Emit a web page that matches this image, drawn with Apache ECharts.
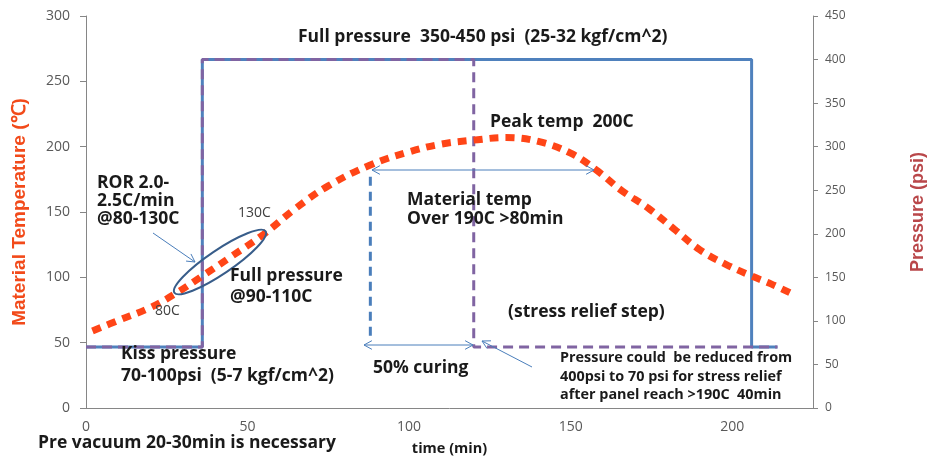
<!DOCTYPE html>
<html>
<head>
<meta charset="utf-8">
<script src="https://cdn.jsdelivr.net/npm/echarts@6/dist/echarts.min.js"></script>
<style>
  html, body { margin: 0; padding: 0; background: #fff; }
  #chart { width: 933px; height: 457px; }
</style>
</head>
<body>
<div id="chart"></div>
<script>
// 数据：温度曲线 (min, ℃)
const tempTime = [2, 10, 20, 28, 36, 45, 55, 65, 75, 88, 100, 110, 120, 130, 140, 150, 158, 166, 174, 182, 190, 198, 206, 212, 218];
const tempC = [59, 67, 77, 88, 101, 116, 133, 153, 170, 186, 196, 202, 205, 207, 204, 195, 182, 166, 153, 137, 121, 110, 101, 95, 88];
// 压力 (min, psi)
const pressTime = [0, 36, 36, 206, 206, 214];
const pressPsi = [70, 70, 400, 400, 70, 70];
// 阶段压力（虚线）
const stepTime = [0, 36, 36, 120, 120, 214];
const stepPsi = [70, 70, 400, 400, 70, 70];
// 50% curing 竖线
const curingTime = [88, 88];
const curingTemp = [177, 54];
// 刻度
const timeTicks = [0, 50, 100, 150, 200];

function pairs(xs, ys) {
  return xs.map((x, i) => [x, ys[i]]);
}

const chart = echarts.init(document.getElementById("chart"));
const FONT = "'Open Sans', Lato, sans-serif";
const ink = "#1a1a1a";
const arrowColor = "#4a7ebb";

// 文字标注
function txt(text, x, y, size, bold, color) {
  return {
    type: "text",
    x: x,
    y: y,
    z: 10,
    style: {
      text: text,
      fill: color || ink,
      font: (bold === false ? "normal " : "bold ") + size + "px " + FONT,
      textVerticalAlign: "middle",
    },
  };
}

// 箭头（开口箭头）
function arrow(x1, y1, x2, y2, both) {
  const out = [{ type: "line", z: 10, shape: { x1, y1, x2, y2 }, style: { stroke: arrowColor, lineWidth: 1 } }];
  const head = (px, py, fx, fy) => {
    const a = Math.atan2(py - fy, px - fx);
    const L = 9, w = 0.5;
    return {
      type: "polyline",
      z: 10,
      shape: {
        points: [
          [px - L * Math.cos(a - w), py - L * Math.sin(a - w)],
          [px, py],
          [px - L * Math.cos(a + w), py - L * Math.sin(a + w)],
        ],
      },
      style: { stroke: arrowColor, lineWidth: 1, fill: null },
    };
  };
  out.push(head(x2, y2, x1, y1));
  if (both) out.push(head(x1, y1, x2, y2));
  return out;
}

const BIG = 17.5;
const NOTE = 14.4;

const graphics = [
  txt("Full pressure  350-450 psi  (25-32 kgf/cm^2)", 298, 37, BIG),
  txt("Peak temp  200C", 490, 122, BIG),
  txt("ROR 2.0-", 97, 183, BIG),
  txt("2.5C/min", 97, 201, BIG),
  txt("@80-130C", 97, 219, BIG),
  txt("130C", 238, 213, 14, false, "#404040"),
  txt("80C", 155, 311, 14, false, "#404040"),
  txt("Full pressure", 230, 276, BIG),
  txt("@90-110C", 230, 297, BIG),
  txt("Material temp", 407, 200, BIG),
  txt("Over 190C >80min", 407, 219, BIG),
  txt("(stress relief step)", 508, 312, BIG),
  txt("Kiss pressure", 121, 354, BIG),
  txt("70-100psi  (5-7 kgf/cm^2)", 121, 376, BIG),
  txt("50% curing", 373, 368, BIG),
  txt("Pressure could  be reduced from", 560, 358, NOTE),
  txt("400psi to 70 psi for stress relief", 560, 377, NOTE),
  txt("after panel reach >190C  40min", 560, 395, NOTE),
  txt("Pre vacuum 20-30min is necessary", 38, 443, BIG),
  {
    type: "ellipse",
    z: 9,
    x: 220,
    y: 262,
    rotation: (34 * Math.PI) / 180,
    shape: { cx: 0, cy: 0, rx: 55, ry: 12 },
    style: { stroke: "#385d8a", lineWidth: 2, fill: null },
  },
]
  .concat(arrow(372, 170, 594, 170, true))
  .concat(arrow(364, 345, 473, 345, true))
  .concat(arrow(153, 233, 195, 262, false))
  .concat(arrow(532, 367, 482, 341, false));

chart.setOption({
  animation: false,
  backgroundColor: "#fff",
  grid: { left: 86, right: 120, top: 16, bottom: 49, outerBoundsMode: "none", containLabel: false },
  xAxis: {
    type: "value",
    min: 0,
    max: 225,
    interval: 50,
    name: "time (min)",
    nameLocation: "middle",
    nameGap: 33,
    nameTextStyle: { color: ink, fontWeight: "bold", fontSize: 14.5, fontFamily: FONT },
    axisLine: { lineStyle: { color: "#868686", width: 1 } },
    axisTick: { show: false },
    splitLine: { show: false },
    axisLabel: {
      color: "#595959",
      fontSize: 14,
      fontFamily: FONT,
      margin: 12,
      showMaxLabel: false,
      formatter: (v) => (timeTicks.indexOf(v) >= 0 ? String(v) : ""),
    },
  },
  yAxis: [
    {
      type: "value",
      min: 0,
      max: 300,
      interval: 50,
      name: "Material Temperature (℃)",
      nameLocation: "middle",
      nameRotate: 90,
      nameGap: 57,
      nameTextStyle: { color: "#f24a1a", fontWeight: "bold", fontSize: 19, fontFamily: "'Liberation Sans', Arial, sans-serif" },
      axisLine: { show: true, lineStyle: { color: "#868686", width: 1 } },
      axisTick: { show: true, length: 6, lineStyle: { color: "#868686" } },
      splitLine: { show: false },
      axisLabel: { color: "#595959", fontSize: 14, fontFamily: FONT, margin: 16 },
    },
    {
      type: "value",
      position: "right",
      min: 0,
      max: 450,
      interval: 50,
      name: "Pressure (psi)",
      nameLocation: "middle",
      nameRotate: 90,
      nameGap: 96,
      nameTextStyle: { color: "#b9474a", fontWeight: "bold", fontSize: 18, fontFamily: "'Liberation Sans', Arial, sans-serif" },
      axisLine: { show: true, lineStyle: { color: "#868686", width: 1 } },
      axisTick: { show: true, length: 5, lineStyle: { color: "#868686" } },
      splitLine: { show: false },
      axisLabel: { color: "#595959", fontSize: 12, fontFamily: FONT, margin: 12 },
    },
  ],
  series: [
    {
      name: "Pressure",
      type: "line",
      yAxisIndex: 1,
      symbol: "none",
      data: pairs(pressTime, pressPsi),
      lineStyle: { color: "#4f81bd", width: 3 },
      z: 2,
    },
    {
      name: "Step",
      type: "line",
      yAxisIndex: 1,
      symbol: "none",
      data: pairs(stepTime, stepPsi),
      lineStyle: { color: "#8064a2", width: 3, type: [10, 6] },
      z: 3,
    },
    {
      name: "Curing",
      type: "line",
      yAxisIndex: 0,
      symbol: "none",
      data: pairs(curingTime, curingTemp),
      lineStyle: { color: "#4a7ebb", width: 3, type: [9, 6] },
      z: 3,
    },
    {
      name: "Temperature",
      type: "line",
      yAxisIndex: 0,
      symbol: "none",
      smooth: 0.4,
      data: pairs(tempTime, tempC),
      lineStyle: { color: "#ff4517", width: 7, type: [9, 7], cap: "butt" },
      z: 4,
    },
  ],
  graphic: graphics,
});
</script>
</body>
</html>
